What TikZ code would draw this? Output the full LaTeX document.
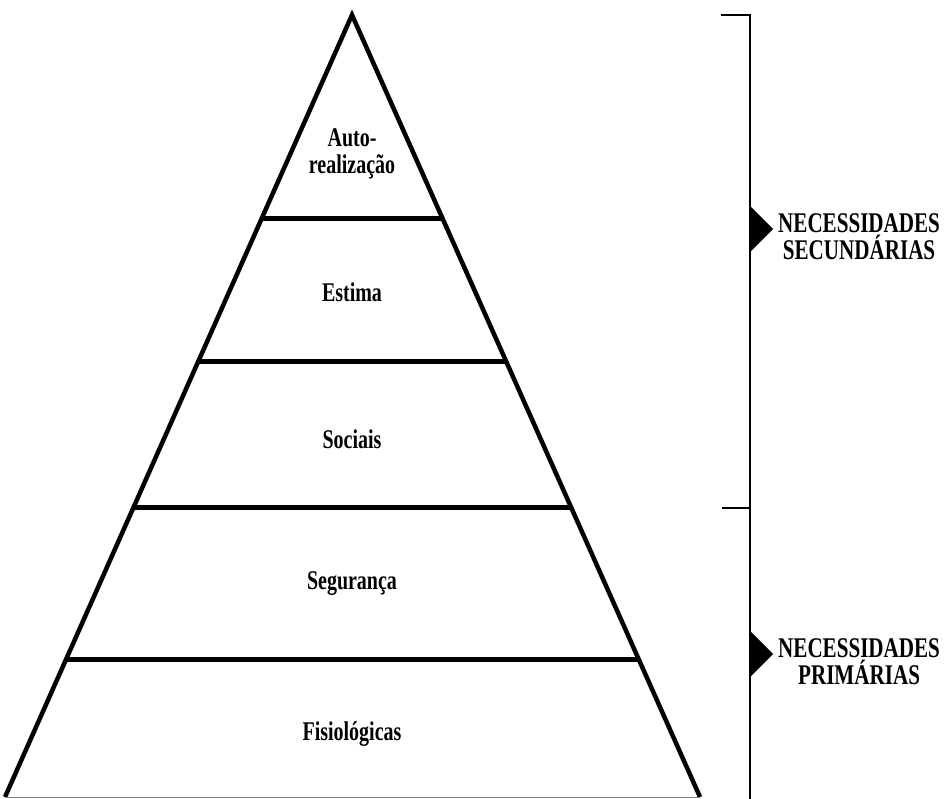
\documentclass[tikz,border=0pt]{standalone}
\usepackage{fontspec}
\newfontfamily\condfont{Liberation Serif}[FakeStretch=0.74]
\usetikzlibrary{calc,positioning}

\begin{document}
\begin{tikzpicture}[
  x=1pt, y=-1pt,
  side/.style={line width=4.5pt,line join=miter},
  level/.style={line width=5pt},
  brace/.style={line width=2.8pt},
  tag/.style={font=\condfont\bfseries\fontsize{27}{27}\selectfont,align=center,inner sep=0pt},
  group/.style={font=\condfont\bfseries\fontsize{28.5}{27}\selectfont,align=center,inner sep=0pt},
  pointer/.style={fill=black},
]
\useasboundingbox (0,0) rectangle (945,799);

% pyramid
\coordinate (apex) at (352,15);
\coordinate (bl) at (5,797);
\coordinate (br) at (700,797);
\draw[side] (bl) -- (apex) -- (br);
\draw[gray,line width=1pt] (bl) -- (br);

\foreach \t/\n in {0.2596/a,0.4437/b,0.6304/c,0.8248/d}{
  \coordinate (l\n) at ($(apex)!\t!(bl)$);
  \coordinate (r\n) at ($(apex)!\t!(br)$);
  \draw[level] (l\n) -- (r\n);
}

\node[tag] (auto)  at (352,154) {Auto-\\realização};
\node[tag] (estim) at (352,292) {Estima};
\node[tag] (soc)   at (352,439) {Sociais};
\node[tag] (seg)   at (352,584) {Segurança};
\node[tag] (fis)   at (352,734) {Fisiológicas};

% brackets
\coordinate (btop) at (750,15);
\coordinate (bmid) at (750,508);
\coordinate (bbot) at (750,799);
\draw[brace] (721,15) -- (btop) -- (bbot);
\draw[brace] (722,508) -- (bmid);

\coordinate (tipS) at (773,229);
\coordinate (tipP) at (773,654);
\fill[pointer] (750,206) -- (tipS) -- (750,252) -- cycle;
\fill[pointer] (750,631) -- (tipP) -- (750,677) -- cycle;

\node[group,right=5pt of tipS,yshift=-8pt] (sec) {NECESSIDADES\\SECUNDÁRIAS};
\node[group,right=5pt of tipP,yshift=-8pt] (pri) {NECESSIDADES\\PRIMÁRIAS};
\end{tikzpicture}
\end{document}
